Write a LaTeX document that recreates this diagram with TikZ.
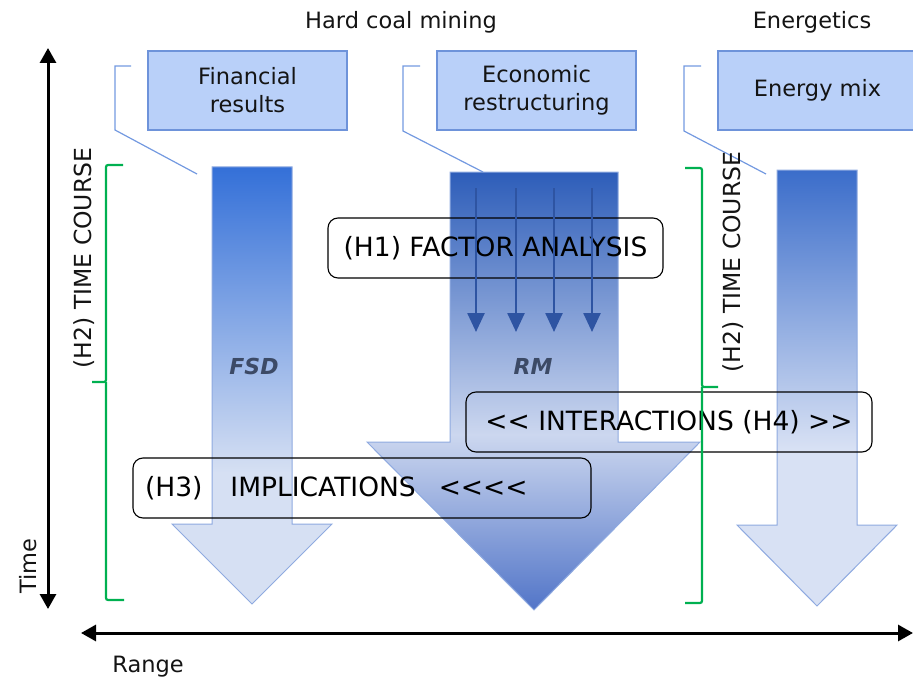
\documentclass[tikz,border=0pt]{standalone}
\usepackage{fontspec}
\setmainfont{DejaVu Sans}
\usetikzlibrary{arrows.meta}

\definecolor{boxfill}{HTML}{B9D0F9}
\definecolor{boxline}{HTML}{6E93DA}
\definecolor{callout}{HTML}{7399E0}
\definecolor{arrline}{HTML}{8FAAE0}
\definecolor{fsdtop}{HTML}{3470D8}
\definecolor{fsdpale}{HTML}{D6E0F3}
\definecolor{rmtop}{HTML}{2D5DB9}
\definecolor{rmpale}{HTML}{CCD7EF}
\definecolor{rmtip}{HTML}{5275C8}
\definecolor{emtop}{HTML}{3B6DCA}
\definecolor{empale}{HTML}{D8E1F4}
\definecolor{inner}{HTML}{2E54A2}
\definecolor{brack}{HTML}{00B050}
\definecolor{lbl}{HTML}{3C4A66}

% vertical shadings of the three big arrows (25bp = bottom, 75bp = top of the shape)
\pgfdeclareverticalshading{fsdshade}{100bp}{color(0bp)=(fsdpale); color(40bp)=(fsdpale); color(75bp)=(fsdtop); color(100bp)=(fsdtop)}
\pgfdeclareverticalshading{rmshade}{100bp}{color(0bp)=(rmtip); color(25bp)=(rmtip); color(45bp)=(rmpale); color(75bp)=(rmtop); color(100bp)=(rmtop)}
\pgfdeclareverticalshading{emshade}{100bp}{color(0bp)=(empale); color(43bp)=(empale); color(75bp)=(emtop); color(100bp)=(emtop)}

\tikzset{
  topbox/.style={draw=boxline, fill=boxfill, line width=1.2pt, minimum width=199pt,
    minimum height=79pt, inner sep=0pt, align=center, text=black!92,
    font=\fontsize{22.5}{28}\selectfont},
  hypbox/.style={draw=black, rounded corners=10pt, line width=1.1pt, inner sep=0pt,
    minimum height=60pt, font=\fontsize{26.5}{30}\selectfont},
  calloutline/.style={draw=callout, line width=1.2pt},
  bigarrow/.style={draw=arrline, line width=1pt},
  innerarrow/.style={draw=inner, line width=2.5pt, -{Triangle[width=17pt,length=19pt]}},
  bracket/.style={draw=brack, line width=2.2pt, rounded corners=2pt},
  axisline/.style={draw=black, line width=3pt, {Triangle[width=16pt,length=15pt]}-{Triangle[width=16pt,length=15pt]}},
  plain/.style={font=\fontsize{22.5}{26}\selectfont, text=black!92, inner sep=0pt},
  rotlabel/.style={font=\fontsize{23.5}{26}\selectfont, text=black!92, inner sep=0pt, rotate=90},
  arrlabel/.style={font=\fontsize{22}{24}\selectfont\bfseries\itshape, text=lbl, inner sep=0pt}
}

\begin{document}
\begin{tikzpicture}[x=1pt,y=-1pt]
\useasboundingbox (0,0) rectangle (913,682);
\clip (0,0) rectangle (913,682);

% headings
\node[plain] (hcm) at (401,22) {Hard coal mining};
\node[plain] (ene) at (812,22) {Energetics};

% callout leaders
\draw[calloutline] (131,66) -- (115,66) -- (115,130) -- (197,174);
\draw[calloutline] (420,66) -- (403,66) -- (403,131) -- (483,172);
\draw[calloutline] (701,66) -- (684,66) -- (684,131) -- (766,174);

% top boxes
\node[topbox] (fin) at (247.5,90.5) {Financial\\results};
\node[topbox] (eco) at (536.5,90.5) {Economic\\restructuring};
\node[topbox] (mix) at (817.5,90.5) {Energy mix};

% big arrows
\path[bigarrow, shading=fsdshade] (212,167) -- (292,167) -- (292,524) -- (332,524)
  -- (252,604) -- (172,524) -- (212,524) -- cycle;
\path[bigarrow, shading=rmshade] (450,172) -- (618,172) -- (618,442) -- (700,442)
  -- (534,610) -- (367,442) -- (450,442) -- cycle;
\path[bigarrow, shading=emshade] (777,170) -- (857,170) -- (857,525) -- (897,525)
  -- (817,606) -- (737,525) -- (777,525) -- cycle;

\node[arrlabel] (fsd) at (254,366) {FSD};
\node[arrlabel] (rm) at (533,366) {RM};

% hypothesis boxes
\node[hypbox, minimum width=335pt] (h1) at (495.5,248) {(H1) FACTOR ANALYSIS};
\node[hypbox, minimum width=406pt] (h4) at (669,422) {<\kern0pt< INTERACTIONS (H4) >\kern0pt>};
\node[hypbox, text width=434pt, inner xsep=12pt, align=left] (h3) at (362,488)
  {(H3)\hspace{28pt}IMPLICATIONS\hspace{23pt}<\kern0pt<\kern0pt<\kern0pt<};

% factor arrows inside RM
\foreach \x [count=\i] in {476,516,554,592} {
  \coordinate (fa\i) at (\x,188);
  \coordinate (fb\i) at (\x,332);
  \draw[innerarrow] (fa\i) -- (fb\i);
}

% time-course brackets
\draw[bracket] (123,165) -- (106,165) -- (106,382) -- (92,382);
\draw[bracket] (106,382) -- (106,600) -- (124,600);
\draw[bracket] (685,168) -- (702,168) -- (702,387) -- (718,387);
\draw[bracket] (702,387) -- (702,603) -- (685,603);

\node[rotlabel] (tc1) at (84,258) {(H2) TIME COURSE};
\node[rotlabel] (tc2) at (733,262) {(H2) TIME COURSE};

% axes
\coordinate (ttop) at (48,48);
\coordinate (tbot) at (48,609);
\coordinate (rl) at (81,633);
\coordinate (rr) at (913,633);
\draw[axisline] (ttop) -- (tbot);
\draw[axisline] (rl) -- (rr);
\node[plain, rotate=90] (time) at (28,566) {Time};
\node[plain] (range) at (148,667) {Range};
\end{tikzpicture}
\end{document}
